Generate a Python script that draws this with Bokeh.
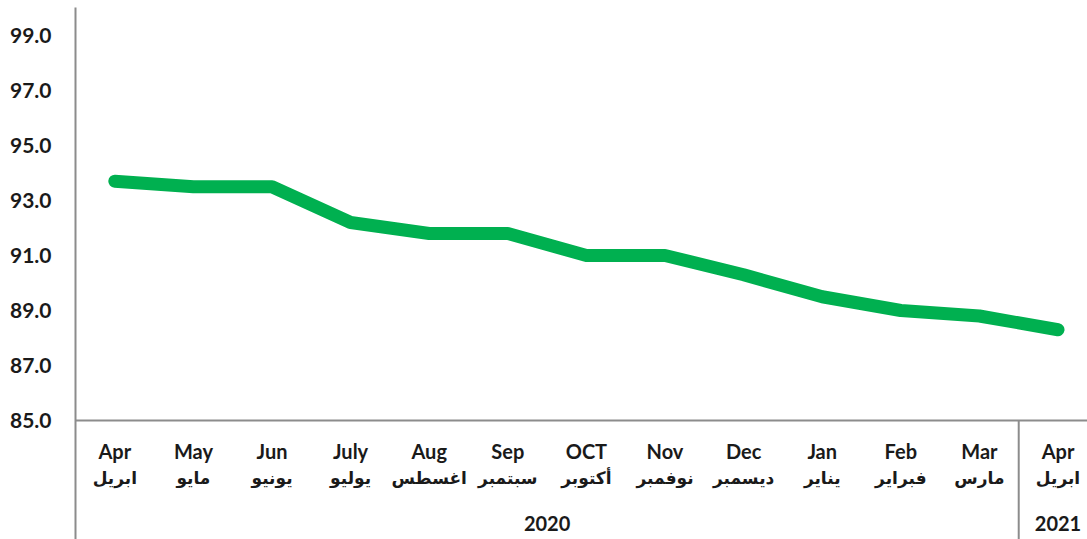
from bokeh.plotting import figure
from bokeh.models import Range1d, FixedTicker, NumeralTickFormatter, Span
from bokeh.core.properties import value
from bokeh.embed import file_html
from bokeh.resources import INLINE

months_en = ["Apr", "May", "Jun", "July", "Aug", "Sep", "OCT", "Nov", "Dec", "Jan", "Feb", "Mar", "Apr"]
months_ar = ["ابريل", "مايو", "يونيو", "يوليو", "اغسطس", "سبتمبر", "أكتوبر", "نوفمبر", "ديسمبر", "يناير", "فبراير", "مارس", "ابريل"]
values = [93.7, 93.5, 93.5, 92.2, 91.8, 91.8, 91.0, 91.0, 90.3, 89.5, 89.0, 88.8, 88.3]
years = ["2020", "2021"]
year_first = [0, 12]
year_last = [11, 12]
y_ticks = [85, 87, 89, 91, 93, 95, 97, 99]

xs = list(range(len(months_en)))
base = y_ticks[0]

p = figure(width=1087, height=539, output_backend="svg", toolbar_location=None,
           x_range=Range1d(-0.5, 12.375), y_range=Range1d(80.67, 100.02),
           min_border_left=75, min_border_right=0, min_border_top=7, min_border_bottom=0)
p.outline_line_color = None
p.xgrid.visible = False
p.ygrid.visible = False
p.xaxis.visible = False

ya = p.yaxis[0]
ya.ticker = FixedTicker(ticks=y_ticks)
ya.formatter = NumeralTickFormatter(format="0.0")
ya.axis_line_color = "#8c8c8c"
ya.axis_line_width = 2
ya.major_tick_line_color = None
ya.minor_tick_line_color = None
ya.major_label_standoff = 18
ya.major_label_text_font = "Lato"
ya.major_label_text_font_style = "bold"
ya.major_label_text_font_size = "21px"
ya.major_label_text_color = "#1a1a1a"

p.add_layout(Span(location=base, dimension="width", line_color="#8c8c8c", line_width=2))

# separators between year groups
seps = [f - 0.5 for f in year_first[1:]]
p.segment(x0=seps, y0=[base] * len(seps), x1=seps, y1=[p.y_range.start] * len(seps),
          line_color="#8c8c8c", line_width=2)

p.line(xs, values, line_width=13, line_color="#00B050", line_cap="round", line_join="round")

p.text(x=xs, y=[base] * len(xs), text=months_en, y_offset=31, text_align="center",
       text_baseline="middle", text_font=value("Lato"), text_font_style="bold",
       text_font_size="20px", text_color="#1a1a1a")
p.text(x=xs, y=[base] * len(xs), text=months_ar, y_offset=58, text_align="center",
       text_baseline="middle", text_font=value("DejaVu Sans"), text_font_style="bold",
       text_font_size="17px", text_color="#1a1a1a")
p.text(x=[(a + b) / 2 for a, b in zip(year_first, year_last)], y=[base] * len(years), text=years,
       y_offset=103, text_align="center", text_baseline="middle", text_font=value("Lato"),
       text_font_style="bold", text_font_size="20px", text_color="#1a1a1a")

open("out.html", "w").write(file_html(p, INLINE))
